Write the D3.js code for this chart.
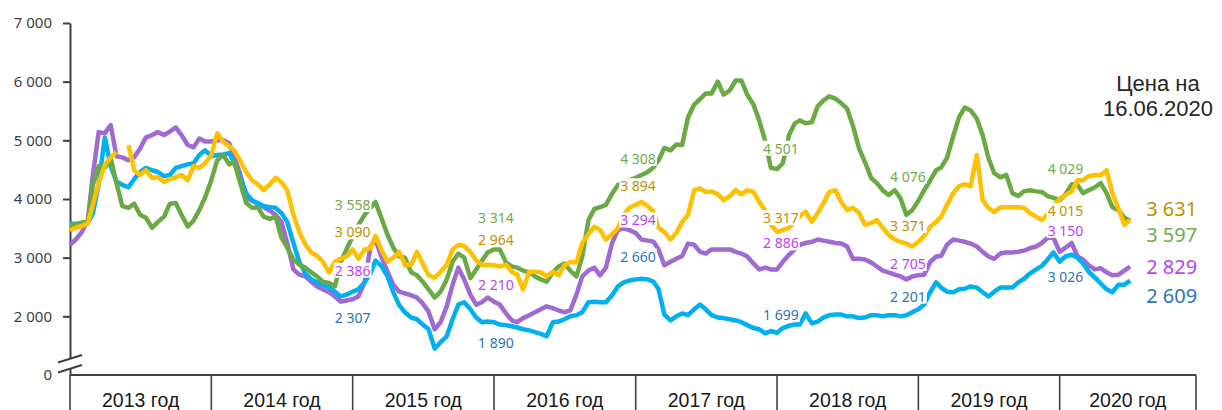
<!DOCTYPE html>
<html>
<head>
<meta charset="utf-8">
<script src="https://cdn.jsdelivr.net/npm/d3@7"></script>
<style>
  body { margin: 0; background: #fff; }
  svg { display: block; }
</style>
</head>
<body>
<script>
var width = 1222;
var height = 410;

// half-month steps from Jan 2013 to Jul 2020
var periods = d3.range(181).map(function (i) {
    return new Date(2013 + Math.floor(i / 24), Math.floor((i % 24) / 2), i % 2 ? 16 : 1);
});

var years = [2013, 2014, 2015, 2016, 2017, 2018, 2019, 2020];
var yTicks = [1000, 2000, 3000, 4000, 5000, 6000, 7000];

var blue = [
    3580, 3580, 3580, 3590, 3750, 4245, 5050, 4560, 4300, 4240,
    4200, 4340, 4460, 4530, 4490, 4460, 4390, 4410, 4530, 4560,
    4590, 4610, 4750, 4830, 4730, 4750, 4760, 4780, 4630, 4360,
    4100, 3980, 3930, 3880, 3860, 3850, 3760, 3610, 3250, 2930,
    2730, 2630, 2580, 2540, 2490, 2420, 2340, 2370, 2420, 2460,
    2580, 2730, 2950, 2860, 2680, 2410, 2190, 2070, 1980, 1950,
    1860, 1780, 1450, 1560, 1660, 1950, 2200, 2240, 2120, 1980,
    1900, 1910, 1900, 1860, 1850, 1830, 1810, 1780, 1760, 1730,
    1700, 1660, 1900, 1910, 1950, 2000, 2020, 2070, 2240, 2250,
    2240, 2240, 2360, 2510, 2580, 2610, 2630, 2640, 2630, 2590,
    2460, 2030, 1930, 2000, 2050, 2020, 2120, 2200, 2120, 2020,
    1980, 1970, 1950, 1930, 1900, 1850, 1800, 1780, 1710, 1750,
    1720, 1800, 1840, 1860, 1860, 2050, 1880, 1910, 1980, 2020,
    2030, 2030, 2000, 2000, 1970, 1980, 2020, 2020, 2000, 2020,
    2020, 2000, 2020, 2070, 2120, 2200, 2420, 2580, 2490, 2420,
    2410, 2460, 2470, 2510, 2490, 2410, 2340, 2420, 2490, 2490,
    2490, 2580, 2640, 2730, 2800, 2860, 2970, 3090, 2930, 3020,
    3050, 3000, 2900, 2760, 2660, 2560, 2460, 2410, 2540, 2540, 2610
];

var purple = [
    3220, 3310, 3440, 3640, 4400, 5140, 5120, 5260, 4730, 4710,
    4660, 4710, 4860, 5050, 5090, 5140, 5090, 5150, 5220, 5090,
    4920, 4880, 5030, 4980, 4980, 5000, 5000, 4950, 4710, 4440,
    4030, 3970, 3920, 3860, 3800, 3730, 3610, 3250, 2800, 2710,
    2680, 2590, 2510, 2460, 2410, 2340, 2250, 2270, 2290, 2340,
    2580, 3190, 3310, 3020, 2760, 2540, 2420, 2390, 2360, 2320,
    2220, 2080, 1780, 1900, 2170, 2540, 2830, 2630, 2370, 2200,
    2240, 2320, 2250, 2200, 2050, 1930, 1900, 1970, 2020, 2070,
    2120, 2170, 2140, 2100, 2070, 2100, 2370, 2680, 2780, 2830,
    2700, 2830, 3250, 3470, 3500, 3470, 3420, 3310, 3290, 3270,
    3140, 2870, 2930, 2980, 3030, 3240, 3220, 3100, 3070, 3140,
    3140, 3140, 3140, 3100, 3070, 3020, 2900, 2800, 2830, 2800,
    2800, 2930, 3050, 3140, 3220, 3250, 3270, 3310, 3290, 3270,
    3250, 3240, 3190, 2980, 2980, 2970, 2920, 2850, 2780, 2750,
    2710, 2680, 2630, 2680, 2700, 2710, 2930, 3020, 3030, 3220,
    3310, 3290, 3270, 3240, 3190, 3100, 3020, 2980, 3070, 3090,
    3090, 3100, 3120, 3160, 3190, 3250, 3340, 3340, 3100, 3170,
    3250, 3020, 2970, 2870, 2800, 2820, 2750, 2700, 2710, 2780, 2850
];

var green = [
    3560, 3560, 3600, 3610, 4240, 4560, 4530, 4700, 4270, 3880,
    3850, 3920, 3730, 3680, 3510, 3610, 3700, 3920, 3930, 3730,
    3530, 3630, 3810, 4030, 4320, 4660, 4750, 4590, 4630, 4290,
    3930, 3850, 3860, 3700, 3660, 3700, 3340, 3170, 2970, 2880,
    2830, 2750, 2680, 2590, 2570, 2510, 2920, 3140, 3360, 3560,
    3730, 3850, 3950, 3680, 3390, 3170, 3020, 3000, 2750, 2700,
    2590, 2460, 2320, 2420, 2630, 2930, 3070, 3000, 2650, 2800,
    2950, 3090, 3140, 3140, 2920, 2850, 2830, 2780, 2750, 2680,
    2630, 2590, 2750, 2850, 2900, 2780, 2680, 3020, 3640, 3830,
    3860, 3900, 4090, 4240, 4290, 4320, 4360, 4410, 4460, 4540,
    4660, 4870, 4830, 4930, 4920, 5390, 5610, 5700, 5800, 5800,
    6000, 5780, 5850, 6020, 6020, 5780, 5610, 5340, 5000, 4530,
    4510, 4610, 5090, 5290, 5340, 5290, 5310, 5580, 5680, 5750,
    5710, 5630, 5540, 5250, 4860, 4630, 4360, 4270, 4150, 4070,
    4150, 4010, 3730, 3810, 3970, 4150, 4320, 4490, 4540, 4700,
    5070, 5390, 5560, 5510, 5370, 5090, 4700, 4440, 4370, 4410,
    4100, 4050, 4130, 4150, 4130, 4120, 4050, 4020, 3980, 4080,
    4250, 4240, 4100, 4150, 4200, 4270, 4100, 3860, 3810, 3680, 3630
];

var yellow = [
    3470, 3510, 3540, 3580, 3900, 4270, 4580, 4710, 4800, null,
    4915, 4490, 4410, 4490, 4360, 4370, 4290, 4340, 4370, 4410,
    4320, 4560, 4530, 4610, 4750, 5120, 4970, 4900, 4830, 4660,
    4460, 4320, 4250, 4150, 4250, 4360, 4290, 4150, 3730, 3440,
    3220, 3090, 3030, 2930, 2750, 2930, 2980, 3020, 3140, 2980,
    3140, 3160, 3370, 3140, 2930, 3000, 3100, 2880, 2880, 3100,
    2900, 2700, 2660, 2760, 2880, 3140, 3220, 3200, 3100, 2950,
    2880, 2880, 2870, 2850, 2880, 2760, 2710, 2460, 2760, 2760,
    2750, 2680, 2760, 2700, 2870, 2920, 2920, 3250, 3400, 3530,
    3470, 3310, 3400, 3500, 3730, 3850, 3900, 3950, 3880, 3780,
    3510, 3440, 3310, 3420, 3610, 3730, 4150, 4180, 4120, 4130,
    4080, 3980, 4050, 4150, 4080, 4150, 4120, 3950, 3810, 3560,
    3440, 3470, 3510, 3610, 3710, 3780, 3610, 3760, 3930, 4120,
    4150, 3950, 3810, 3850, 3760, 3560, 3590, 3640, 3510, 3390,
    3310, 3270, 3240, 3190, 3270, 3370, 3530, 3610, 3700, 3900,
    4100, 4220, 4250, 4220, 4750, 3980, 3850, 3780, 3860, 3860,
    3860, 3860, 3850, 3760, 3700, 3640, 3740, 3880, 4000, 4070,
    4130, 4320, 4320, 4390, 4410, 4410, 4490, 4100, 3830, 3560, 3640
];

// data labels (start of each year) and last values
var labelDates = ["2015-01-01", "2016-01-06", "2017-01-07", "2018-01-11", "2018-12-05", "2020-01-16"];
var greenLabels = [3558, 3314, 4308, 4501, 4076, 4029];
var yellowLabels = [3090, 2964, 3894, 3317, 3371, 4015];
var purpleLabels = [2386, 2210, 3294, 2886, 2705, 3150];
var blueLabels = [2307, 1890, 2660, 1699, 2201, 3026];
var lastValues = { yellow: 3631, green: 3597, purple: 2829, blue: 2609 };

var series = [
    { key: "purple", values: purple, labels: purpleLabels, color: "#A06AD4", text: "#BD3FF7",
      dy: [-23, -19, -20, -21, -11, -18], endDy: 6 },
    { key: "blue", values: blue, labels: blueLabels, color: "#00B0F0", text: "#2E75B6",
      dy: [20, 20, -21, -19, -8, 21], endDy: 22 },
    { key: "green", values: green, labels: greenLabels, color: "#6AAA44", text: "#70AD47",
      dy: [-20, -21, -22, -21, -18, -28], endDy: 19 },
    { key: "yellow", values: yellow, labels: yellowLabels, color: "#FFC000", text: "#BF9000",
      dy: [-20, -20, -19, -21, -10, 13], endDy: -5 }
];

var plotRight = 1196;
var fmt = d3.formatLocale({ decimal: ",", thousands: " ", grouping: [3], currency: ["", ""] }).format(",d");
var parseDate = d3.timeParse("%Y-%m-%d");

var svg = d3.select("body")
    .append("svg")
    .attr("width", width)
    .attr("height", height);

var x = d3.scaleTime()
    .domain([new Date(2013, 0, 1), new Date(2021, 0, 1)])
    .range([70, 1201.4]);

var y = d3.scaleLinear()
    .domain([1000, 7000])
    .range([375, 23]);

var x0 = x(new Date(2013, 0, 1));
var y0 = y(1000);

// y axis
var yAxis = svg.append("g")
    .attr("transform", "translate(" + x0 + ",0)")
    .call(d3.axisLeft(y)
        .tickValues(yTicks)
        .tickSize(7)
        .tickSizeOuter(0)
        .tickPadding(11)
        .tickFormat(function (d) { return d === 1000 ? "0" : fmt(d); }));

yAxis.select(".domain").attr("stroke", "#404040").attr("stroke-width", 2);
yAxis.selectAll(".tick line").attr("stroke", "#404040").attr("stroke-width", 2)
    .attr("display", function (d) { return d === 1000 ? "none" : null; });
yAxis.selectAll(".tick text")
    .attr("fill", "#404040")
    .style("font-family", "'Noto Sans', sans-serif")
    .style("font-size", "15px");

// x axis with year boxes
svg.append("line")
    .attr("x1", x0).attr("x2", plotRight)
    .attr("y1", y0).attr("y2", y0)
    .attr("stroke", "#404040").attr("stroke-width", 2);

var edges = years.map(function (yr) { return x(new Date(yr, 0, 1)); }).concat([plotRight]);

svg.selectAll(".sep")
    .data(edges)
    .enter()
    .append("line")
    .attr("class", "sep")
    .attr("x1", function (d) { return d; })
    .attr("x2", function (d) { return d; })
    .attr("y1", y0)
    .attr("y2", height)
    .attr("stroke", "#404040")
    .attr("stroke-width", 1.6);

svg.selectAll(".year")
    .data(years)
    .enter()
    .append("text")
    .attr("class", "year")
    .attr("x", function (d, i) { return (edges[i] + edges[i + 1]) / 2; })
    .attr("y", 407)
    .attr("text-anchor", "middle")
    .attr("fill", "#1a1a1a")
    .style("font-family", "'Liberation Sans', Arial, sans-serif")
    .style("font-size", "19.5px")
    .text(function (d) { return d + " год"; });

// axis break
svg.append("polygon")
    .attr("points", [[x0 - 4, y0 - 15], [x0 + 4, y0 - 17.5], [x0 + 4, y0 - 7.5], [x0 - 4, y0 - 5]].join(" "))
    .attr("fill", "#fff");

[[-12.5, -20], [-2.5, -10]].forEach(function (p) {
    svg.append("line")
        .attr("x1", x0 - 12).attr("y1", y0 + p[0])
        .attr("x2", x0 + 12).attr("y2", y0 + p[1])
        .attr("stroke", "#404040").attr("stroke-width", 2);
});

// lines
var line = d3.line()
    .defined(function (d) { return d != null; })
    .x(function (d, i) { return x(periods[i]); })
    .y(function (d) { return y(d); });

series.forEach(function (s) {
    svg.append("path")
        .datum(s.values)
        .attr("fill", "none")
        .attr("stroke", s.color)
        .attr("stroke-width", 4.5)
        .attr("stroke-linejoin", "round")
        .attr("d", line);
});

// data labels with white boxes
var labelLayer = svg.append("g");
series.forEach(function (s) {
    s.labels.forEach(function (v, i) {
        var g = labelLayer.append("g");
        var t = g.append("text")
            .attr("x", x(parseDate(labelDates[i])))
            .attr("y", y(v) + s.dy[i])
            .attr("dy", "0.36em")
            .attr("text-anchor", "middle")
            .attr("fill", s.text)
            .style("font-family", "'Noto Sans', sans-serif")
            .style("font-size", "14px")
            .text(fmt(v));
        var b = t.node().getBBox();
        g.insert("rect", "text")
            .attr("x", b.x - 1)
            .attr("y", b.y + 2)
            .attr("width", b.width + 2)
            .attr("height", b.height - 4)
            .attr("fill", "#fff");
    });
});

// last values
var lastX = x(periods[periods.length - 1]) + 16;
series.forEach(function (s) {
    var v = lastValues[s.key];
    svg.append("text")
        .attr("x", lastX)
        .attr("y", y(v) + s.endDy)
        .attr("fill", s.text)
        .style("font-family", "'Noto Sans', sans-serif")
        .style("font-size", "20px")
        .text(fmt(v));
});

svg.append("text")
    .attr("x", 1158)
    .attr("y", 91)
    .attr("text-anchor", "middle")
    .attr("fill", "#262626")
    .style("font-family", "'Liberation Sans', Arial, sans-serif")
    .style("font-size", "22px")
    .selectAll("tspan")
    .data(["Цена на", "16.06.2020"])
    .enter()
    .append("tspan")
    .attr("x", 1158)
    .attr("dy", function (d, i) { return i ? 25 : 0; })
    .text(function (d) { return d; });
</script>
</body>
</html>
